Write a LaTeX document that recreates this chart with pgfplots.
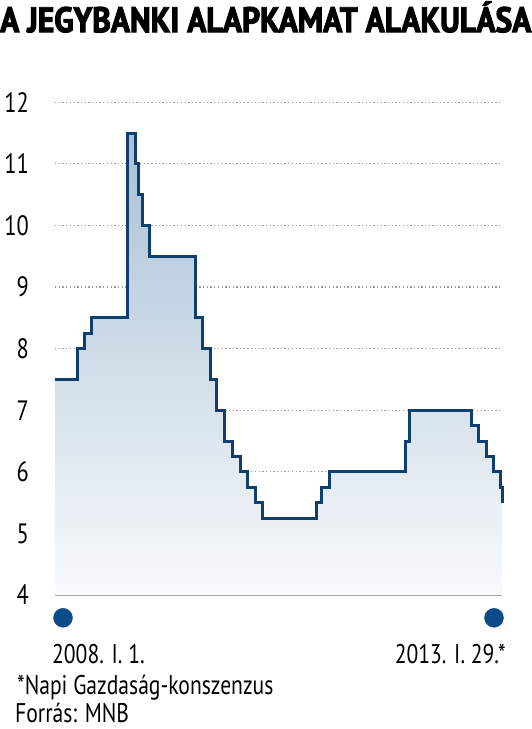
\documentclass[border=0pt]{standalone}
\usepackage{graphicx}
\usepackage{pgfplots}
\pgfplotsset{compat=1.18}
\usepackage{fontspec}
\setmainfont{PT Sans}[FakeStretch=0.8]
\newfontfamily\titlefont{PT Sans}[FakeStretch=0.7, FakeBold=2.5]
\definecolor{lineblue}{HTML}{0E3F6F}
\definecolor{dotblue}{HTML}{0B4C88}
\definecolor{filltop}{HTML}{A9C0D5}
\definecolor{fillbot}{HTML}{F8FAFC}
\definecolor{gridgray}{HTML}{9A9A9A}
\pgfplotstableread{
x y
0 7.5
22 8.0
29 8.25
36 8.5
72 11.5
80 11.0
83 10.5
87 10.0
94 9.5
140 8.5
147 8.0
155 7.5
161 7.0
169 6.5
177 6.25
185 6.0
192 5.75
200 5.5
207 5.25
261 5.5
266 5.75
274 6.0
350 6.5
354 7.0
416 6.75
423 6.5
431 6.25
438 6.0
445 5.75
447 5.5
}\rates
\begin{document}
\begin{tikzpicture}
\useasboundingbox (0pt,0pt) rectangle (531pt,-729pt);
\node[anchor=north west, inner sep=0pt] at (0pt,-1pt) {\resizebox{531pt}{31pt}{\titlefont\bfseries A JEGYBANKI ALAPKAMAT ALAKULÁSA}};
\begin{axis}[
  at={(55pt,-595pt)}, anchor=south west,
  scale only axis, width=447pt, height=492.8pt,
  xmin=0, xmax=447, ymin=4, ymax=12,
  clip=false,
  axis line style={draw=none},
  xtick=\empty,
  ytick={5,6,...,12},
  extra y ticks={4},
  extra y tick style={major grid style={solid, line width=1.2pt, color=gray!80}},
  ymajorgrids,
  major grid style={gridgray, line width=1.3pt, dash pattern=on 1.3pt off 2.4pt},
  major tick length=0pt,
  /pgf/number format/assume math mode=true,
  yticklabel style={anchor=east, inner sep=0pt, xshift=-26pt, font=\fontsize{28}{32}\selectfont},
]
\addplot[draw=none, top color=filltop, bottom color=fillbot, const plot] table {\rates} |- (axis cs:0,4) -- cycle;
\addplot[const plot, lineblue, line width=3pt, line join=miter] table {\rates};
\addplot[only marks, mark=*, mark size=9.5pt, color=dotblue] coordinates {(8,3.63) (439,3.63)};
\end{axis}
\node[anchor=base west, inner sep=0pt, font=\fontsize{27}{30}\selectfont] at (52pt,-663pt) {2008. I. 1.};
\node[anchor=base east, inner sep=0pt, font=\fontsize{27}{30}\selectfont] at (506pt,-663pt) {2013. I. 29.*};
\node[anchor=base west, inner sep=0pt, font=\fontsize{27}{30}\selectfont] at (17pt,-694pt) {*Napi Gazdaság-konszenzus};
\node[anchor=base west, inner sep=0pt, font=\fontsize{27}{30}\selectfont] at (15pt,-722pt) {Forrás: MNB};
\end{tikzpicture}
\end{document}
